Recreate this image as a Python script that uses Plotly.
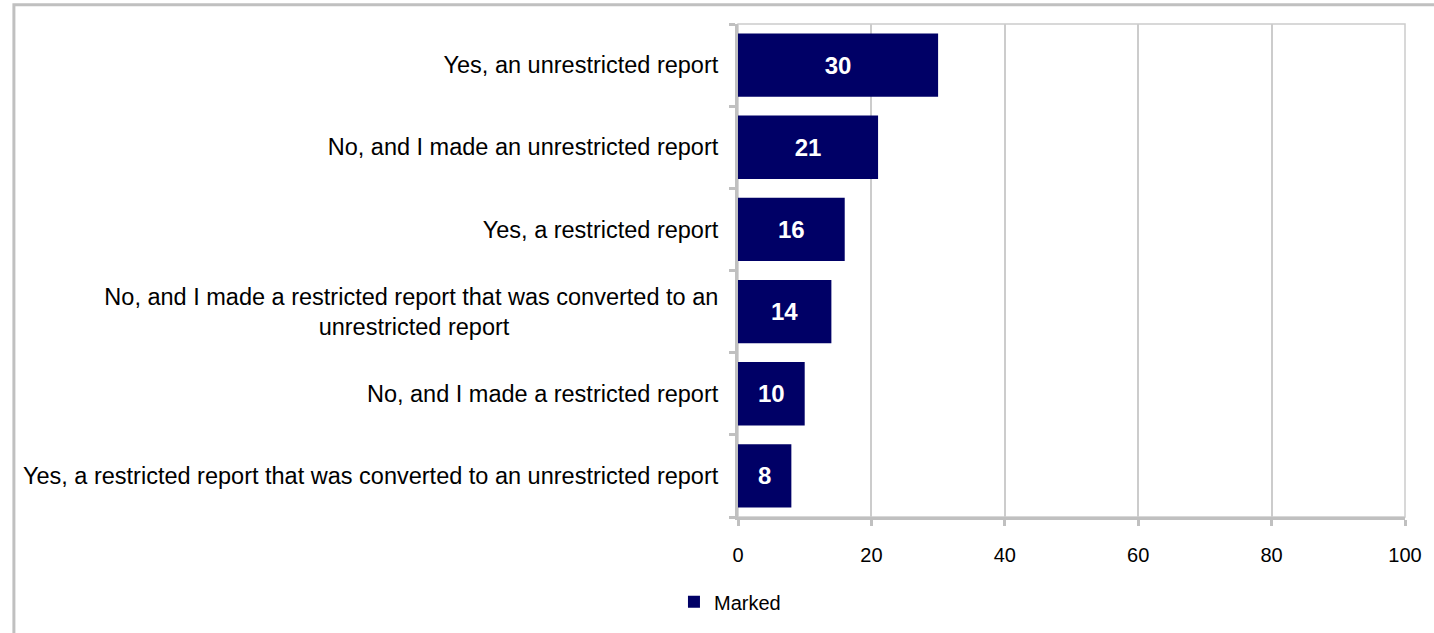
import plotly.graph_objects as go

# Survey answers, top to bottom as shown
categories = [
    "Yes, an unrestricted report",
    "No, and I made an unrestricted report",
    "Yes, a restricted report",
    "No, and I made a restricted report that was converted to an unrestricted report",
    "No, and I made a restricted report",
    "Yes, a restricted report that was converted to an unrestricted report",
]
marked = [30, 21, 16, 14, 10, 8]
series_name = "Marked"
x_ticks = [0, 20, 40, 60, 80, 100]

NAVY = "#000066"
AXIS_GREY = "#c0c0c0"
GRID_GREY = "#cccccc"
FONT = "Liberation Sans, Arial, sans-serif"


def wrap_label(label):
    # the long answer wraps in two lines, second line roughly centred
    split_at = "converted to an "
    if len(label) > 75 and split_at in label:
        head, tail = label.split(split_at, 1)
        return head + split_at.rstrip() + "<br>" + tail + "\u00a0" * 32
    return label


tick_text = [wrap_label(c) for c in categories]

fig = go.Figure()

fig.add_trace(go.Bar(
    y=categories,
    x=marked,
    name=series_name,
    orientation="h",
    marker=dict(color=NAVY, line=dict(width=0)),
    text=marked,
    texttemplate="<b>%{text}</b>",
    textposition="inside",
    insidetextanchor="middle",
    constraintext="none",
    textfont=dict(color="white", size=24, family=FONT),
))

# plot-area frame (thin top/right edges)
fig.add_shape(type="rect", xref="paper", yref="paper",
              x0=0, x1=1, y0=0, y1=1,
              line=dict(color=GRID_GREY, width=1.5), layer="below")

# outer chart border, runs off the right and bottom of the picture
fig.add_shape(type="rect", xref="paper", yref="paper",
              x0=-1.0856, x1=1.2, y0=-0.4, y1=1.0391,
              line=dict(color=AXIS_GREY, width=3))

fig.update_xaxes(
    range=[0, 100],
    tickvals=x_ticks,
    showgrid=True,
    gridcolor=GRID_GREY,
    gridwidth=1.5,
    zeroline=False,
    showline=True,
    linecolor=AXIS_GREY,
    linewidth=3,
    ticks="outside",
    ticklen=6,
    tickwidth=3,
    tickcolor=AXIS_GREY,
    ticklabelstandoff=12,
    tickfont=dict(size=20, color="black", family=FONT),
)

fig.update_yaxes(
    autorange="reversed",
    tickmode="array",
    tickvals=categories,
    ticktext=tick_text,
    tickson="boundaries",
    showgrid=False,
    showline=True,
    linecolor=AXIS_GREY,
    linewidth=3,
    ticks="outside",
    ticklen=6,
    tickwidth=3,
    tickcolor=AXIS_GREY,
    ticklabelstandoff=12,
    tickfont=dict(size=23.5, color="black", family=FONT),
)

fig.update_layout(
    width=1434,
    height=633,
    margin=dict(l=738, r=24, t=24, b=110),
    bargap=0.23,
    paper_bgcolor="white",
    plot_bgcolor="white",
    font=dict(family=FONT, color="black"),
    showlegend=True,
    legend=dict(
        orientation="h",
        x=-0.096, xanchor="left",
        y=-0.172, yanchor="middle",
        font=dict(size=20, color="black", family=FONT),
        bgcolor="rgba(0,0,0,0)",
    ),
)

# drop the browser's default body margin so the chart sits at the page corner
fig.write_html(
    "out.html",
    config={"displayModeBar": False},
    post_script="document.body.style.margin='0';",
)
